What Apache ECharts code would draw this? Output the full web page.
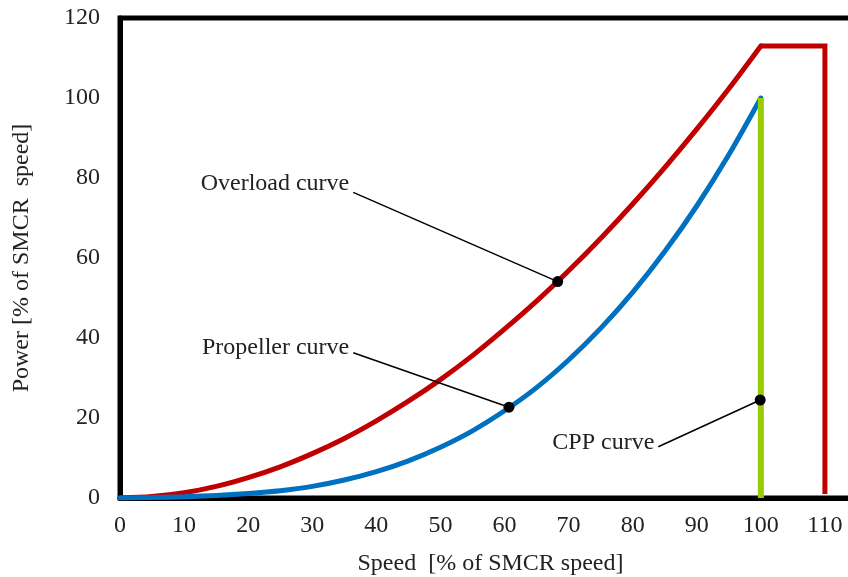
<!DOCTYPE html>
<html>
<head>
<meta charset="utf-8">
<script src="https://cdn.jsdelivr.net/npm/echarts@6/dist/echarts.min.js"></script>
<style>
  html, body { margin: 0; padding: 0; background: #fff; }
  #chart { width: 848px; height: 577px; }
</style>
</head>
<body>
<div id="chart"></div>
<script>
// speed [% of SMCR speed]
var speeds = [0, 5, 10, 15, 20, 25, 30, 35, 40, 45, 50, 55, 60, 65, 70, 75, 80, 85, 90, 95, 100];
// overload curve, power [%]
var overloadPower = [0, 0.35, 1.3, 2.9, 5.1, 7.8, 11.1, 14.9, 19.3, 24.2, 29.6, 35.6, 42.2, 49.2, 56.8, 64.9, 73.5, 82.6, 92.2, 102.3, 113];
// overload limit: flat top then drop at 110
var limitSpeeds = [100, 110, 110];
var limitPower = [113, 113, 1];
// propeller curve, power [%]
var propellerPower = [0, 0.1, 0.3, 0.6, 1.1, 1.8, 2.9, 4.5, 6.6, 9.3, 12.7, 16.8, 21.8, 27.6, 34.5, 42.4, 51.4, 61.6, 73, 85.8, 100];
// CPP curve (vertical at 100)
var cppSpeeds = [100, 100];
var cppPower = [100, 0];
// annotations: text, leader start [speed, power], dot [speed, power]
var noteTexts = ['Overload curve', 'Propeller curve', 'CPP curve'];
var noteStarts = [[36.4, 76.4], [36.4, 36.3], [84.0, 12.8]];
var noteDots = [[68.3, 54.1], [60.7, 22.7], [99.9, 24.5]];
var noteOffsets = [[0, -9], [0, -5], [0, -4]];

var xTicks = [0, 10, 20, 30, 40, 50, 60, 70, 80, 90, 100, 110];
var yTicks = [0, 20, 40, 60, 80, 100, 120];

var font = 'Liberation Serif';
var fontSize = 24;

function zip(xs, ys) {
    var out = [];
    for (var i = 0; i < xs.length; i++) out.push([xs[i], ys[i]]);
    return out;
}

var series = [
    {
        name: 'Overload curve',
        type: 'line',
        data: zip(speeds, overloadPower),
        smooth: 0.3,
        symbol: 'none',
        lineStyle: { color: '#C00000', width: 5, cap: 'round' },
        z: 2
    },
    {
        name: 'Overload limit',
        type: 'line',
        data: zip(limitSpeeds, limitPower),
        symbol: 'none',
        lineStyle: { color: '#C00000', width: 5, join: 'miter' },
        z: 2
    },
    {
        name: 'Propeller curve',
        type: 'line',
        data: zip(speeds, propellerPower),
        smooth: 0.3,
        symbol: 'none',
        lineStyle: { color: '#0070C0', width: 5, cap: 'round' },
        z: 3
    },
    {
        name: 'CPP curve',
        type: 'line',
        data: zip(cppSpeeds, cppPower),
        symbol: 'none',
        lineStyle: { color: '#99CC00', width: 6 },
        z: 4
    }
];

for (var i = 0; i < noteTexts.length; i++) {
    series.push({
        name: noteTexts[i] + ' note',
        type: 'line',
        showAllSymbol: true,
        z: 5,
        lineStyle: { color: '#000', width: 1.5 },
        itemStyle: { color: '#000' },
        data: [
            {
                value: noteStarts[i],
                symbolSize: 0,
                label: {
                    show: true,
                    formatter: noteTexts[i],
                    position: 'left',
                    distance: 4,
                    offset: noteOffsets[i],
                    fontFamily: font,
                    fontSize: fontSize,
                    color: '#222'
                }
            },
            { value: noteDots[i], symbol: 'circle', symbolSize: 11 }
        ]
    });
}

var myChart = echarts.init(document.getElementById('chart'));
var option = {
    animation: false,
    backgroundColor: '#fff',
    grid: {
        left: 120,
        top: 18,
        right: -41,
        bottom: 79,
        outerBoundsMode: 'none',
        containLabel: false,
        show: true,
        borderColor: '#000',
        borderWidth: 5
    },
    xAxis: {
        type: 'value',
        min: 0,
        max: 120,
        interval: 10,
        name: 'Speed  [% of SMCR speed]',
        nameLocation: 'middle',
        nameGap: 54,
        nameTextStyle: { fontFamily: font, fontSize: fontSize, color: '#222', padding: [0, 28, 0, 0] },
        axisLine: { show: true, lineStyle: { color: '#000', width: 5 } },
        axisTick: { show: false },
        splitLine: { show: false },
        axisLabel: {
            margin: 16,
            fontFamily: font,
            fontSize: fontSize,
            color: '#222',
            formatter: function (v) { return xTicks.indexOf(v) >= 0 ? String(v) : ''; }
        }
    },
    yAxis: {
        type: 'value',
        min: 0,
        max: 120,
        interval: 20,
        name: 'Power [% of SMCR  speed]',
        nameLocation: 'middle',
        nameGap: 86,
        nameTextStyle: { fontFamily: font, fontSize: fontSize, color: '#222' },
        axisLine: { show: true, lineStyle: { color: '#000', width: 5 } },
        axisTick: { show: false },
        splitLine: { show: false },
        axisLabel: {
            margin: 20,
            fontFamily: font,
            fontSize: fontSize,
            color: '#222',
            formatter: function (v) { return yTicks.indexOf(v) >= 0 ? String(v) : ''; }
        }
    },
    series: series
};
myChart.setOption(option);
</script>
</body>
</html>
